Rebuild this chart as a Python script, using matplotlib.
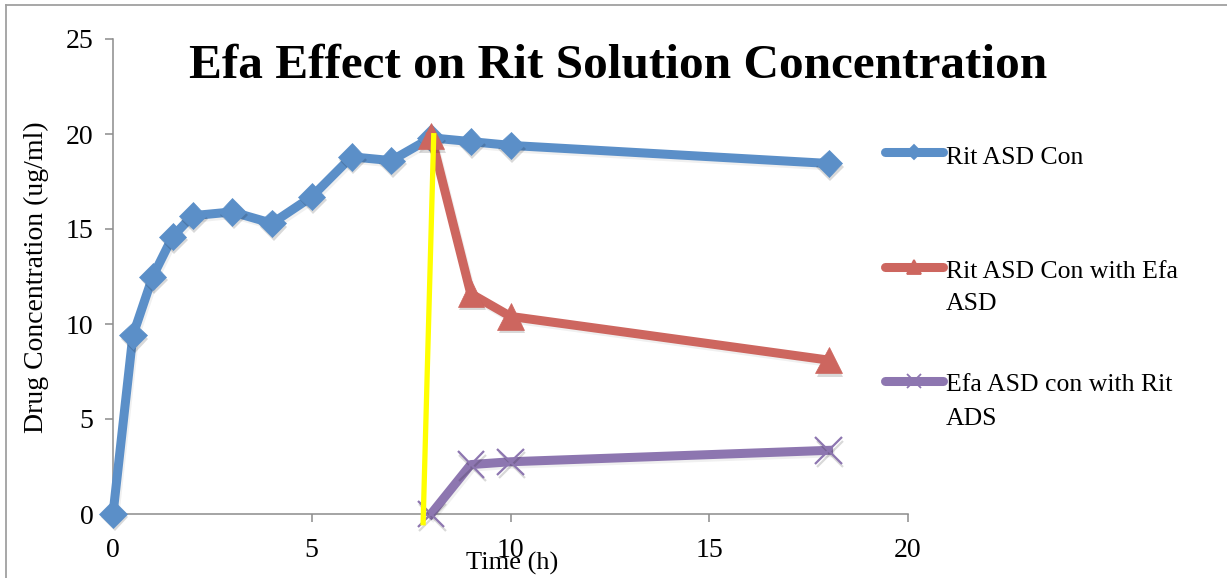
import matplotlib
matplotlib.use("Agg")
import matplotlib.pyplot as plt
import matplotlib.patheffects as pe
from matplotlib.lines import Line2D

# ---- data ----
time_rit = [0, 0.5, 1, 1.5, 2, 3, 4, 5, 6, 7, 8, 9, 10, 18]
rit_con = [0, 9.4, 12.5, 14.6, 15.7, 15.9, 15.3, 16.7, 18.8, 18.6, 19.8, 19.6, 19.4, 18.45]

time_after = [8, 9, 10, 18]
rit_with_efa = [19.9, 11.6, 10.4, 8.1]
efa_with_rit = [0, 2.6, 2.75, 3.35]

# marker line drawn at the time of Efa addition
marker_x = [7.8, 8.07]
marker_y = [-0.6, 20.05]

series_names = ["Rit ASD Con", "Rit ASD Con with Efa\nASD", "Efa ASD con with Rit\nADS"]
title = "Efa Effect on Rit Solution Concentration"
xlabel = "Time (h)"
ylabel = "Drug Concentration (ug/ml)"
xticks = [0, 5, 10, 15, 20]
yticks = [0, 5, 10, 15, 20, 25]

BLUE = "#5B8FC8"
RED = "#CD665F"
PURPLE = "#8D76B0"
YELLOW = "#FFFF00"
GRAY = "#8C8C8C"

W, H = 1227, 578
plt.rcParams["font.family"] = ["Liberation Serif", "DejaVu Serif"]

fig = plt.figure(figsize=(W / 100, H / 100), dpi=100)
ax = fig.add_axes([113 / W, 1 - 514 / H, (908 - 113) / W, (514 - 39) / H])
ax.set_xlim(0, 20)
ax.set_ylim(0, 25)

for s in ("top", "right"):
    ax.spines[s].set_visible(False)
for s in ("left", "bottom"):
    ax.spines[s].set_color(GRAY)
    ax.spines[s].set_linewidth(1.1)

ax.set_xticks(xticks)
ax.set_yticks(yticks)
ax.tick_params(axis="both", direction="out", length=6, width=1.1, color=GRAY,
               labelsize=20, labelcolor="black")
ax.tick_params(axis="x", pad=11)
ax.tick_params(axis="y", pad=8)

line_shadow = [pe.SimpleLineShadow(offset=(1.2, -1.8), shadow_color="black", alpha=0.06), pe.Normal()]
mark_shadow = [pe.SimplePatchShadow(offset=(1.2, -2.5), shadow_rgbFace="black", alpha=0.15), pe.Normal()]
x_shadow = [pe.SimpleLineShadow(offset=(1.2, -2.5), shadow_color="black", alpha=0.15), pe.Normal()]

LW = 6.5
# Rit ASD Con
ax.plot(time_rit, rit_con, color=BLUE, lw=LW, solid_joinstyle="round",
        clip_on=False, zorder=3, path_effects=line_shadow)
ax.plot(time_rit, rit_con, ls="none", marker="D", ms=14, color=BLUE, mec=BLUE, mew=0.5,
        clip_on=False, zorder=3.1, path_effects=mark_shadow)

# Rit ASD Con with Efa ASD
ax.plot(time_after, rit_with_efa, color=RED, lw=LW, solid_joinstyle="round",
        clip_on=False, zorder=4, path_effects=line_shadow)
ax.plot(time_after, rit_with_efa, ls="none", marker="^", ms=19, color=RED, mec=RED, mew=0.5,
        clip_on=False, zorder=4.1, path_effects=mark_shadow)

# Efa ASD con with Rit ADS
ax.plot(time_after, efa_with_rit, color=PURPLE, lw=LW, solid_joinstyle="round",
        clip_on=False, zorder=5, path_effects=line_shadow)
ax.plot(time_after, efa_with_rit, ls="none", marker="x", ms=19, mew=1.6, color=PURPLE,
        clip_on=False, zorder=5.1, path_effects=x_shadow)

# Efa addition marker
ax.plot(marker_x, marker_y, color=YELLOW, lw=3.8, solid_capstyle="butt",
        clip_on=False, zorder=6)

# titles
fig.text(618.5 / W, 1 - 78 / H, title, ha="center", va="baseline",
         fontsize=35.5, fontweight="bold")
fig.text(36 / W, 1 - 277 / H, ylabel, rotation=90, ha="center", va="center", fontsize=20)
fig.text(512.5 / W, 1 - 570 / H, xlabel, ha="center", va="baseline", fontsize=19)

# legend
handles = [
    (BLUE, "D", 7, 152.3, [164]),
    (RED, "^", 10, 266.7, [278, 310]),
    (PURPLE, "x", 10, 380.7, [391, 425]),
]
for (col, mk, ms, ly, baselines), name in zip(handles, series_names):
    fig.add_artist(Line2D([885 / W, 943 / W], [1 - ly / H, 1 - ly / H], color=col,
                          lw=6.5, solid_capstyle="round", transform=fig.transFigure))
    fig.add_artist(Line2D([914 / W], [1 - ly / H], color=col, marker=mk, ms=ms,
                          mew=1.3, ls="none", transform=fig.transFigure))
    for txt, b in zip(name.split("\n"), baselines):
        fig.text(946 / W, 1 - b / H, txt, ha="left", va="baseline", fontsize=18.5)

# outer chart frame
fig.add_artist(Line2D([6 / W, 6 / W], [0, 1 - 5 / H], color="#A0A0A0", lw=1.3,
                      transform=fig.transFigure))
fig.add_artist(Line2D([6 / W, 1], [1 - 5 / H, 1 - 5 / H], color="#A0A0A0", lw=1.3,
                      transform=fig.transFigure))

fig.savefig("out.png", dpi=100)
